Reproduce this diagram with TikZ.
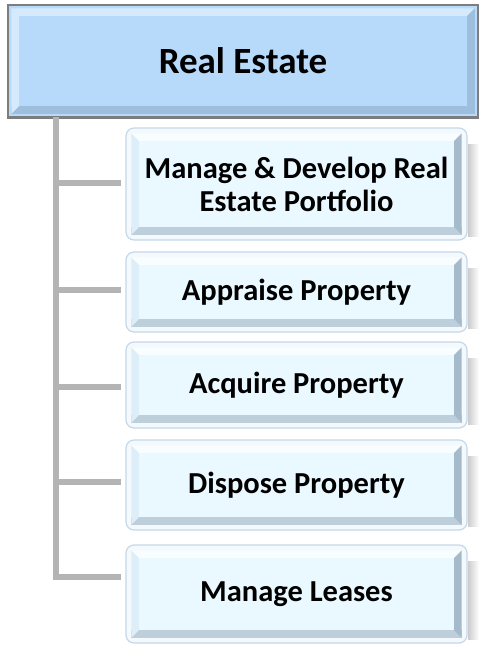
\documentclass[tikz,border=0pt]{standalone}
\usepackage{fontspec}
\setmainfont{Carlito}
\usepackage{tikz}
\usetikzlibrary{positioning}
\tikzstyle{chart} = [x = 1pt, y = -1pt]
\definecolor{trunkColor}{RGB}{180,180,180}
\definecolor{headFill}{RGB}{183,218,251}
\definecolor{headLight}{RGB}{214,234,253}
\definecolor{headDark}{RGB}{158,190,222}
\definecolor{headBorder}{RGB}{125,125,125}
\definecolor{boxFace}{RGB}{234,249,255}
\definecolor{boxRing}{RGB}{243,249,253}
\definecolor{boxRingLine}{RGB}{196,216,232}
\definecolor{bevelLight}{RGB}{248,253,255}
\definecolor{bevelLeft}{RGB}{222,238,248}
\definecolor{bevelDark}{RGB}{165,186,203}
\definecolor{bevelBottom}{RGB}{190,207,220}
\tikzstyle{headBox} = [draw=headBorder, fill=headFill, line width=1.5pt, minimum width=470pt, minimum height=112pt, inner sep=0pt]
\tikzstyle{childBox} = [draw=boxRingLine, fill=boxRing, rounded corners=8pt, line width=1.2pt, minimum width=341pt, inner sep=0pt]
\tikzstyle{headText} = [font=\fontsize{37}{42}\selectfont\bfseries]
\tikzstyle{childText} = [font=\fontsize{30.5}{33}\selectfont\bfseries, align=center]
\tikzstyle{branchLine} = [color=trunkColor, line width=6pt]
\tikzstyle{shadowStyle} = [left color=black!20, right color=white]
\newcommand{\bevel}[6]{% node, ring, band, light, left, dark
  \fill [#4] ([shift={(#2,#2)}]#1.north west) -- ([shift={(-#2,#2)}]#1.north east) -- ([shift={(-#2-#3,#2+#3)}]#1.north east) -- ([shift={(#2+#3,#2+#3)}]#1.north west) -- cycle;
  \fill [#5] ([shift={(#2,#2)}]#1.north west) -- ([shift={(#2+#3,#2+#3)}]#1.north west) -- ([shift={(#2+#3,-#2-#3)}]#1.south west) -- ([shift={(#2,-#2)}]#1.south west) -- cycle;
  \fill [#6] ([shift={(-#2,#2)}]#1.north east) -- ([shift={(-#2,-#2)}]#1.south east) -- ([shift={(-#2-#3,-#2-#3)}]#1.south east) -- ([shift={(-#2-#3,#2+#3)}]#1.north east) -- cycle;
}
\newcommand{\child}[4]{% name, top, bottom, text
  \shade [shadowStyle] (468,#2+16) rectangle (479,#3-4);
  \node [childBox, minimum height={(#3-#2)*1pt}] (#1) at (296.5,{(#2+#3)/2}) {};
  \fill [bevelBottom] ([shift={(6,-6)}]#1.south west) rectangle ([shift={(-6,-14)}]#1.south east);
  \bevel{#1}{6}{8}{bevelLight}{bevelLeft}{bevelDark}
  \fill [boxFace] ([shift={(14,14)}]#1.north west) rectangle ([shift={(-14,-14)}]#1.south east);
  \node [childText] at (#1) {#4};
}

\begin{document}
\begin{tikzpicture}[chart]
  \useasboundingbox (0,0) rectangle (479,645);
  % heading
  \node [headBox] (realEstate) at (243,61) {};
  \fill [headDark] ([shift={(4,-4)}]realEstate.south west) rectangle ([shift={(-4,-12)}]realEstate.south east);
  \bevel{realEstate}{4}{8}{headLight}{headLight}{headDark}
  \fill [headFill] ([shift={(12,12)}]realEstate.north west) rectangle ([shift={(-12,-12)}]realEstate.south east);
  \draw [headBorder, line width=1.5pt] (realEstate.north west) rectangle (realEstate.south east);
  \node [headText] (realEstateText) at (realEstate) {Real Estate};

  % boxes
  \child{managePortfolio}{128}{240}{Manage \& Develop Real\\Estate Portfolio}
  \child{appraise}{252}{332}{Appraise Property}
  \child{acquire}{342}{428}{Acquire Property}
  \child{dispose}{440}{530}{Dispose Property}
  \child{manageLeases}{545}{643}{Manage Leases}

  % trunk and branches
  \coordinate (trunkTop) at (56,117);
  \coordinate (t1) at (56,183);
  \coordinate (t2) at (56,290);
  \coordinate (t3) at (56,387);
  \coordinate (t4) at (56,482);
  \coordinate (t5) at (56,577);
  \draw [branchLine] (trunkTop) -- (t5) -- ([xshift=-4pt]t5 -| manageLeases.west);
  \foreach \t/\b in {t1/managePortfolio, t2/appraise, t3/acquire, t4/dispose}
    \draw [branchLine] (\t) -- ([xshift=-4pt]\t -| \b.west);
\end{tikzpicture}
\end{document}
